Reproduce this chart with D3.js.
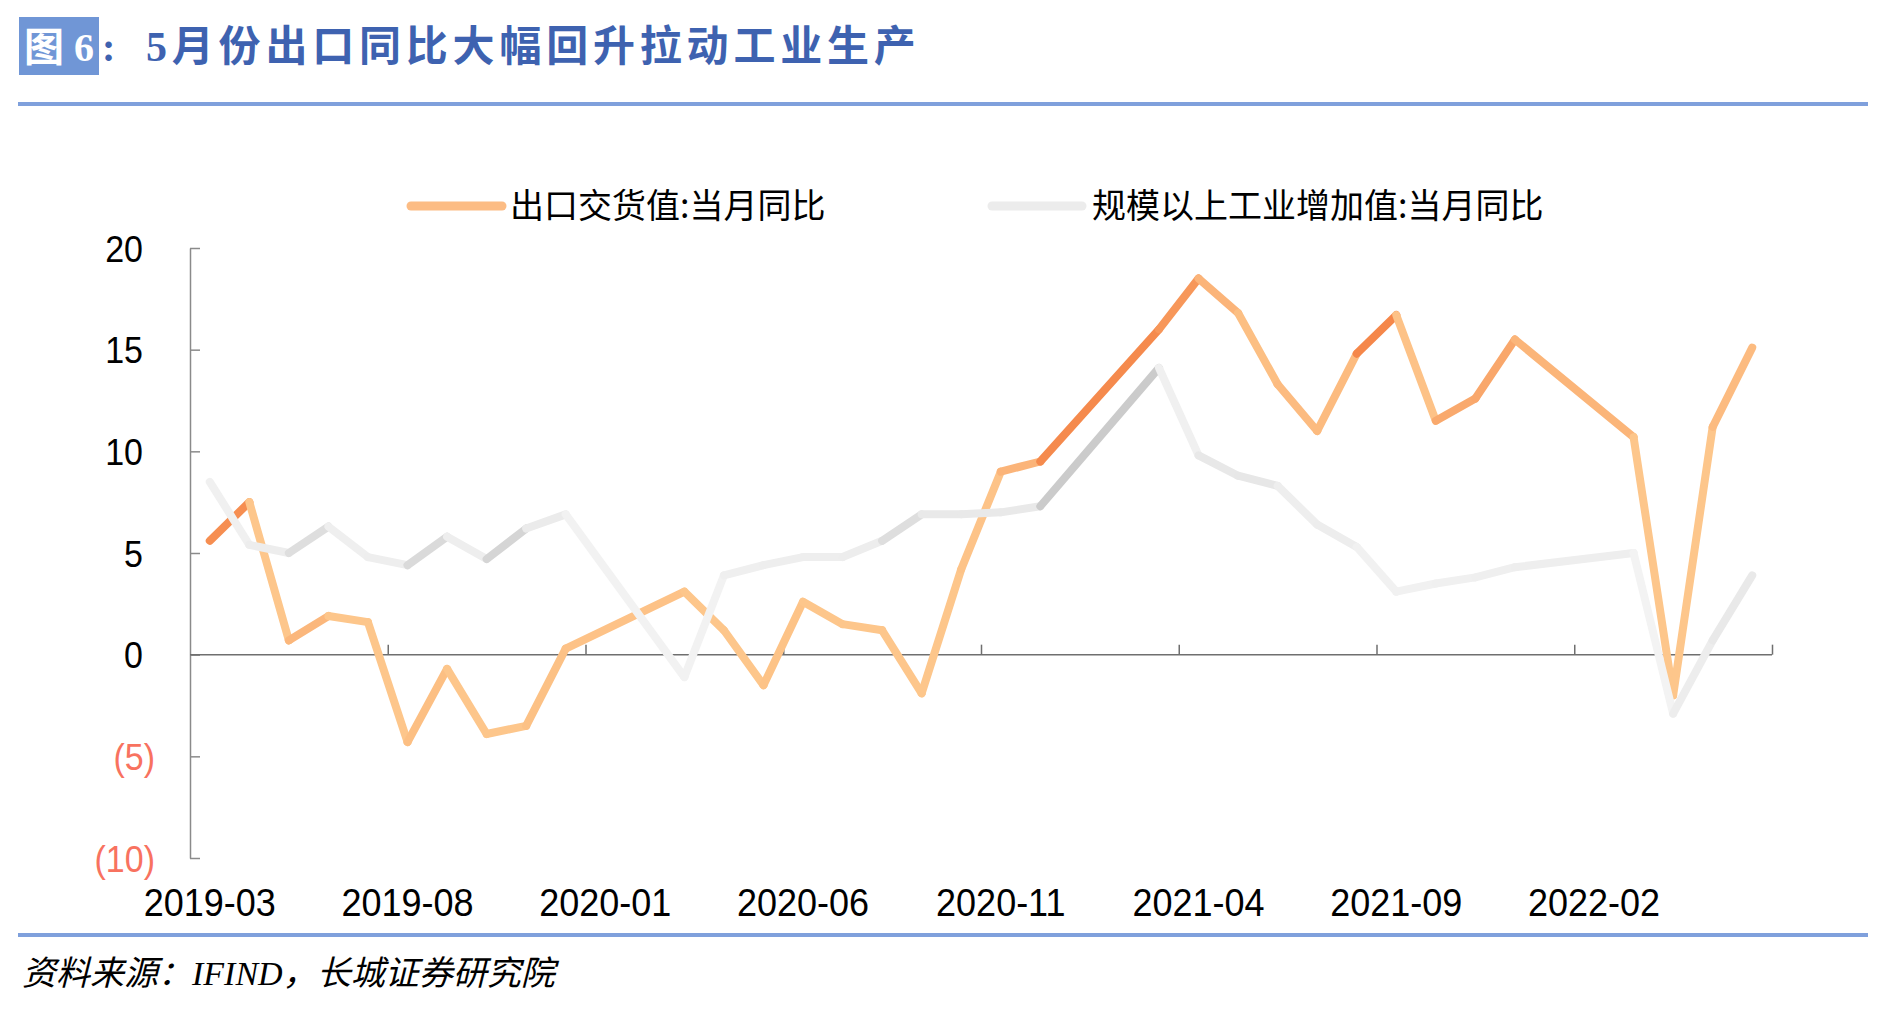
<!DOCTYPE html>
<html><head><meta charset="utf-8">
<script src="https://cdn.jsdelivr.net/npm/d3@7"></script>
<style>body{margin:0;background:#fff;} svg{display:block}</style>
</head><body><svg id="c" width="1896" height="1030"></svg>
<script>
const months = ["2019-03","2019-04","2019-05","2019-06","2019-07","2019-08","2019-09","2019-10","2019-11","2019-12",
  "2020-01","2020-02","2020-03","2020-04","2020-05","2020-06","2020-07","2020-08","2020-09","2020-10",
  "2020-11","2020-12","2021-01","2021-02","2021-03","2021-04","2021-05","2021-06","2021-07","2021-08",
  "2021-09","2021-10","2021-11","2021-12","2022-01","2022-02","2022-03","2022-04","2022-05","2022-06"];
const exportYoY = [5.6,7.5,0.7,1.9,1.6,-4.3,-0.7,-3.9,-3.5,0.3,
  null,null,3.1,1.2,-1.5,2.6,1.5,1.2,-1.9,4.2,
  9.0,9.5,null,null,16.0,18.5,16.8,13.3,11.0,14.8,
  16.7,11.5,12.6,15.5,null,null,10.7,-2.0,11.2,15.1];
const industryYoY = [8.5,5.4,5.0,6.3,4.8,4.4,5.8,4.7,6.2,6.9,
  null,null,-1.1,3.9,4.4,4.8,4.8,5.6,6.9,6.9,
  7.0,7.3,null,null,14.1,9.8,8.8,8.3,6.4,5.3,
  3.1,3.5,3.8,4.3,null,null,5.0,-2.9,0.7,3.9];
const yTicks = [20,15,10,5,0,-5,-10];
const xLabelMonths = ["2019-03","2019-08","2020-01","2020-06","2020-11","2021-04","2021-09","2022-02"];
const boundaryTicks = [5,10,15,20,25,30,35,40];
const seriesNames = ["出口交货值:当月同比","规模以上工业增加值:当月同比"];
const titleTag = "图 6";
const titleText = "5月份出口同比大幅回升拉动工业生产";
const sourceText = "资料来源：IFIND，长城证券研究院";

const svg = d3.select("#c");
const X0 = 190, X1 = 1772;
const x = d3.scaleBand().domain(months).range([X0, X1]);
const xi = d3.scaleLinear().domain([0, months.length]).range([X0, X1]);
const y = d3.scaleLinear().domain([-10, 20]).range([858, 248]);

// title
svg.append("rect").attr("x",19).attr("y",17).attr("width",80).attr("height",58).attr("fill","#7096D6");
svg.append("text").attr("x",24).attr("y",61).attr("fill","#fff")
  .style("font-family","'Liberation Serif','Noto Sans CJK SC'").style("font-weight","700").style("font-size","40px")
  .text(titleTag);
svg.append("text").attr("x",102).attr("y",61).attr("fill","#3E62B0")
  .style("font-family","'Liberation Serif','Noto Sans CJK SC'").style("font-weight","700").style("font-size","40px")
  .text(":");
svg.append("text").attr("x",146).attr("y",61).attr("fill","#3E62B0")
  .style("font-family","'Liberation Serif','Noto Sans CJK SC'").style("font-weight","700").style("font-size","42px")
  .style("letter-spacing","4.8px").text(titleText);
svg.append("line").attr("x1",18).attr("x2",1868).attr("y1",104).attr("y2",104).attr("stroke","#7FA0DC").attr("stroke-width",4);
svg.append("line").attr("x1",18).attr("x2",1868).attr("y1",935).attr("y2",935).attr("stroke","#7FA0DC").attr("stroke-width",4);
svg.append("text").attr("x",22).attr("y",985).attr("fill","#000")
  .style("font-family","'Liberation Serif','Noto Sans CJK SC'").style("font-style","italic").style("font-size","34px")
  .text(sourceText);

// y axis
const yAxis = d3.axisLeft(y).tickValues(yTicks).tickSize(-10).tickSizeOuter(0)
  .tickFormat(d => d < 0 ? `(${-d})` : `${d}`);
const gy = svg.append("g").attr("transform",`translate(${X0},0)`).call(yAxis);
gy.select(".domain").attr("stroke","#8a8a8a").attr("stroke-width",1.5);
gy.selectAll(".tick line").attr("stroke","#8a8a8a").attr("stroke-width",1.5);
gy.selectAll(".tick text")
  .attr("x", d => d < 0 ? -35 : -47).attr("y",0).attr("dy","0.36em")
  .attr("transform","scale(1,1.08)")
  .attr("fill", d => d < 0 ? "#F8725F" : "#000")
  .style("font-family","'Liberation Sans',Arial,sans-serif").style("font-size","34px");

// x axis line
svg.append("line").attr("x1",X0).attr("x2",X1).attr("y1",y(0)).attr("y2",y(0)).attr("stroke","#6f6f6f").attr("stroke-width",1.5);
const xt = d3.axisTop(xi).tickValues(boundaryTicks).tickSize(10).tickFormat("");
const gxt = svg.append("g").attr("transform",`translate(0,${y(0)})`).call(xt);
gxt.select(".domain").remove();
gxt.selectAll(".tick line").attr("stroke","#6f6f6f").attr("stroke-width",1.5);
const xl = d3.axisBottom(x).tickValues(xLabelMonths).tickSize(0);
const gxl = svg.append("g").attr("transform","translate(0,902)").call(xl);
gxl.select(".domain").remove();
gxl.selectAll(".tick text").attr("y",0).attr("dy","0.36em").attr("fill","#000")
  .attr("transform","scale(1,1.08)")
  .style("font-family","'Liberation Sans',Arial,sans-serif").style("font-size","36px");

// lines
const px = d => x(d.m) + x.bandwidth()/2;
const py = d => y(d.v);
function darkness(a,b){
  const dx = px(b)-px(a), dy = py(b)-py(a);
  const th = Math.atan2(-dy, dx);
  const deg = th*180/Math.PI;
  const angleF = Math.exp(-Math.pow((deg-45)/12,2));
  const hF = Math.max(0, Math.min(1, ((a.v+b.v)/2 - 2)/12));
  const c = Math.cos(th);
  return Math.min(1, 0.8*angleF + 0.5*hF*c*c);
}
const lineGen = d3.line().x(px).y(py);
function drawSeries(values, light, dark){
  const pts = months.map((m,i)=>({m, v: values[i]})).filter(d => d.v != null);
  const g = svg.append("g");
  const interp = d3.interpolateRgb(light, dark);
  g.selectAll("path").data(d3.pairs(pts)).join("path")
    .attr("d", d => lineGen(d))
    .attr("fill","none")
    .attr("stroke", d => interp(darkness(d[0], d[1])))
    .attr("stroke-width", 8)
    .attr("stroke-linecap","round").attr("stroke-linejoin","round");
}
drawSeries(exportYoY, "#FDC68B", "#F5874A");
drawSeries(industryYoY, "#F3F3F3", "#C4C4C4");

// legend
const legend = [
  {name: seriesNames[0], x1: 411, x2: 502, tx: 510, color: "#FCBC84"},
  {name: seriesNames[1], x1: 992, x2: 1082, tx: 1092, color: "#ECECEC"}
];
const lg = svg.append("g");
legend.forEach(l => {
  lg.append("line").attr("x1",l.x1).attr("x2",l.x2).attr("y1",206).attr("y2",206)
    .attr("stroke",l.color).attr("stroke-width",9).attr("stroke-linecap","round");
  lg.append("text").attr("x",l.tx).attr("y",206).attr("dy","0.36em").attr("fill","#000")
    .style("font-family","'Noto Sans CJK SC',sans-serif").style("font-size","34px").text(l.name);
});
</script></body></html>
